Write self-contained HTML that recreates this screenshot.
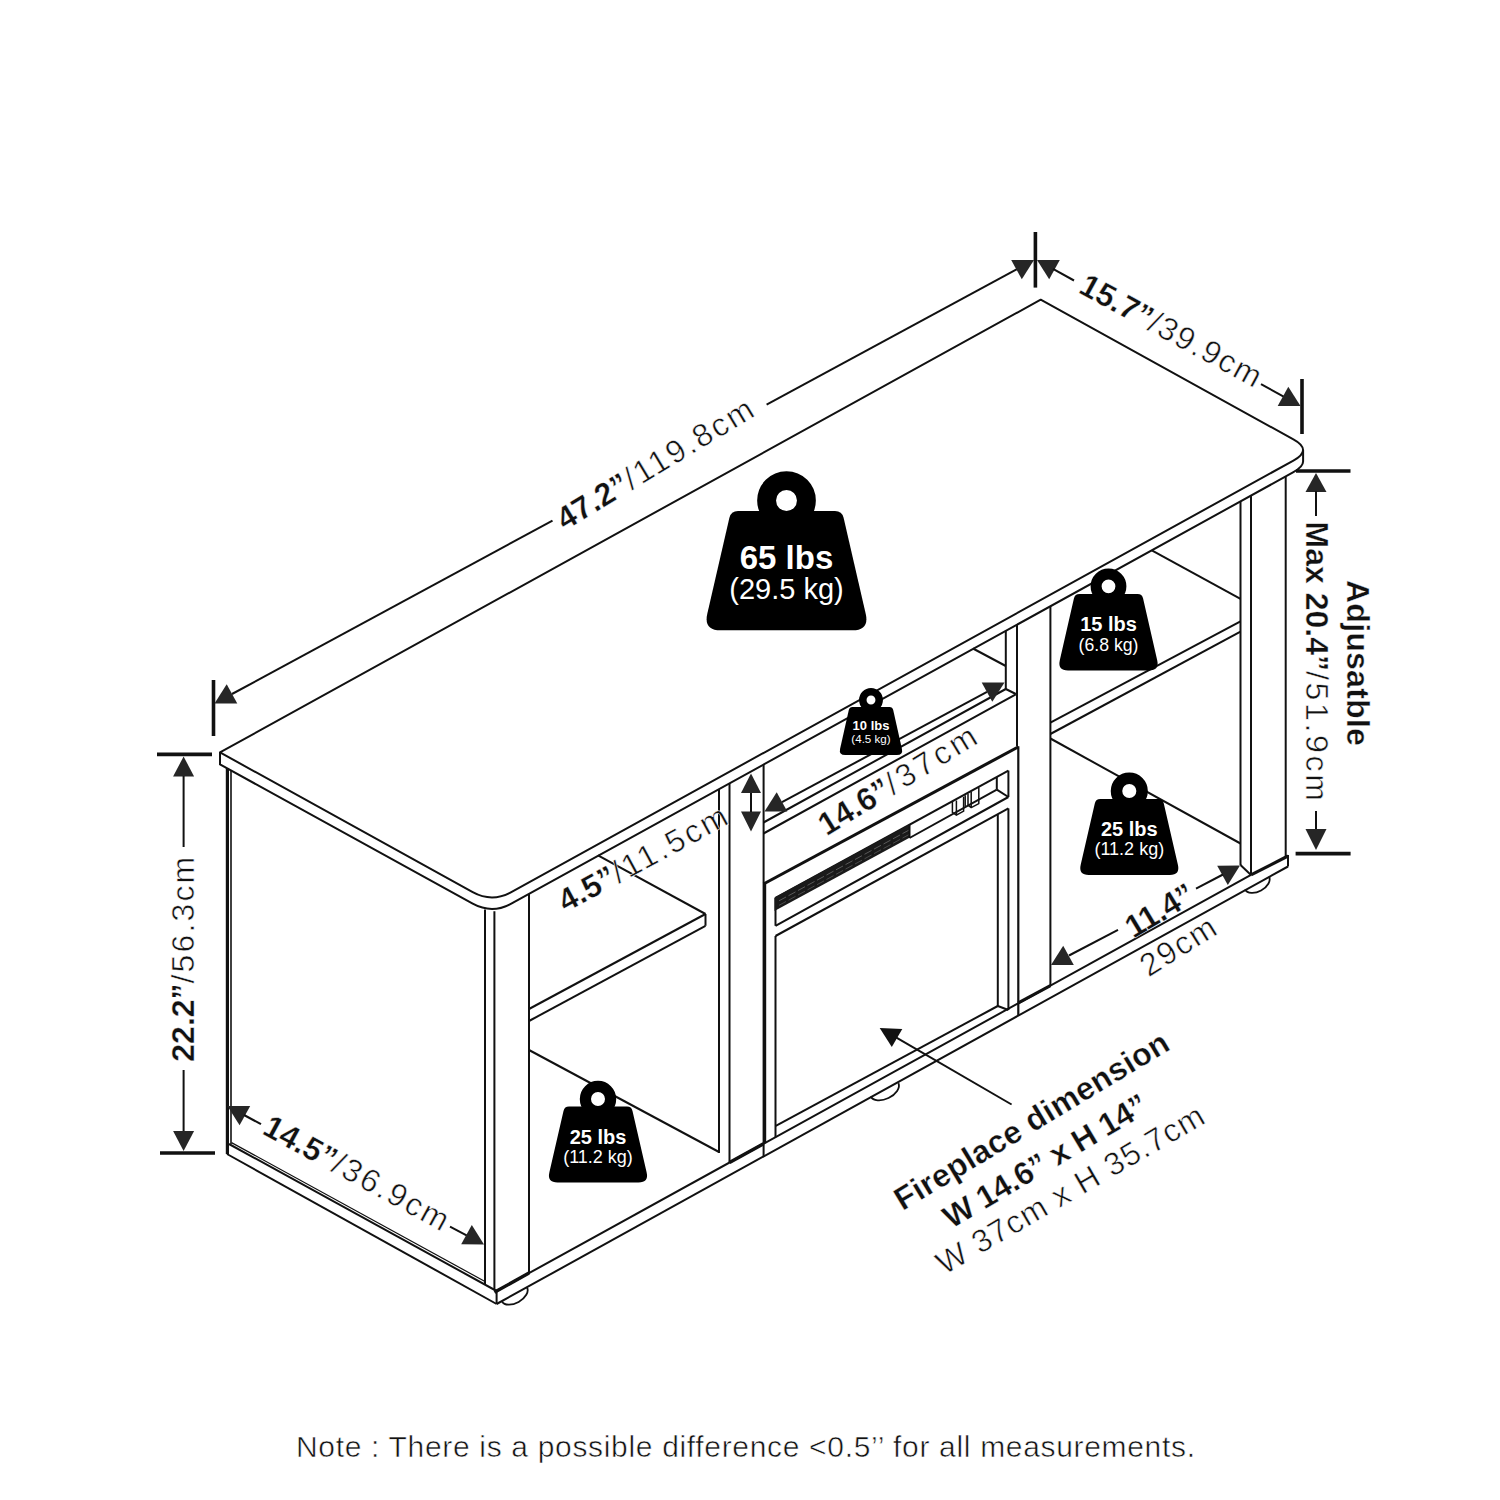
<!DOCTYPE html>
<html><head><meta charset="utf-8"><title>Dimensions</title>
<style>
html,body{margin:0;padding:0;background:#fff;}
body{width:1500px;height:1500px;overflow:hidden;}
svg{display:block;font-family:"Liberation Sans",sans-serif;}
</style></head><body>
<svg width="1500" height="1500" viewBox="0 0 1500 1500">
<rect width="1500" height="1500" fill="#fff"/>
<path d="M220,752.4 L472.7,892.1 Q492,902.7 511.3,892.1 L1293.4,460.6 Q1312.7,450 1293.4,439.4 L1040.7,299.7 Z" stroke="#111" stroke-width="2" fill="#fff" stroke-linejoin="round" />
<path d="M220,752.4 L220,764.4 L472.7,903.7 Q492,914.3000000000001 511.3,903.7 L1293.4,472.2 Q1303.1,466.9 1303.1,461.6 L1303.1,450.0" stroke="#111" stroke-width="2" fill="none" stroke-linejoin="round" />
<line x1="227.4" y1="768.1" x2="227.4" y2="1154.0" stroke="#111" stroke-width="3.2" stroke-linecap="butt"/>
<line x1="231.0" y1="770.1" x2="231.0" y2="1144.0" stroke="#111" stroke-width="1.6" stroke-linecap="butt"/>
<line x1="229.0" y1="1144.0" x2="496.6" y2="1291.0" stroke="#111" stroke-width="2" stroke-linecap="butt"/>
<line x1="231.5" y1="1142.6" x2="485.0" y2="1281.5" stroke="#111" stroke-width="1.2" stroke-linecap="butt"/>
<line x1="227.0" y1="1154.0" x2="496.6" y2="1304.0" stroke="#111" stroke-width="2" stroke-linecap="butt"/>
<line x1="496.6" y1="1291.0" x2="496.6" y2="1304.0" stroke="#111" stroke-width="2" stroke-linecap="butt"/>
<line x1="485.0" y1="909.4" x2="485.0" y2="1284.0" stroke="#111" stroke-width="2" stroke-linecap="butt"/>
<line x1="494.4" y1="911.3" x2="494.4" y2="1290.0" stroke="#111" stroke-width="2" stroke-linecap="butt"/>
<line x1="529.0" y1="893.9" x2="529.0" y2="1274.0" stroke="#111" stroke-width="2" stroke-linecap="butt"/>
<line x1="496.6" y1="1291.0" x2="1251.0" y2="874.9" stroke="#111" stroke-width="2" stroke-linecap="butt"/>
<line x1="1251.0" y1="874.9" x2="1288.0" y2="856.0" stroke="#111" stroke-width="3.2" stroke-linecap="butt"/>
<line x1="496.6" y1="1304.0" x2="1288.0" y2="866.5" stroke="#111" stroke-width="2" stroke-linecap="butt"/>
<line x1="1288.0" y1="855.0" x2="1288.0" y2="866.5" stroke="#111" stroke-width="2" stroke-linecap="butt"/>
<line x1="494.4" y1="1292.2" x2="529.0" y2="1273.1" stroke="#111" stroke-width="3.4" stroke-linecap="butt"/>
<line x1="729.5" y1="1162.6" x2="763.5" y2="1143.8" stroke="#111" stroke-width="3.4" stroke-linecap="butt"/>
<line x1="1018.3" y1="1002.8" x2="1050.4" y2="985.6" stroke="#111" stroke-width="3.2" stroke-linecap="butt"/>
<line x1="719.0" y1="789.1" x2="719.0" y2="1153.0" stroke="#111" stroke-width="2" stroke-linecap="butt"/>
<line x1="729.5" y1="783.3" x2="729.5" y2="1162.6" stroke="#111" stroke-width="2" stroke-linecap="butt"/>
<line x1="763.6" y1="764.5" x2="763.6" y2="1156.4" stroke="#111" stroke-width="2" stroke-linecap="butt"/>
<line x1="764.6" y1="883.6" x2="764.6" y2="1143.2" stroke="#111" stroke-width="3.2" stroke-linecap="butt"/>
<line x1="1005.8" y1="630.9" x2="1005.8" y2="689.0" stroke="#111" stroke-width="2" stroke-linecap="butt"/>
<line x1="1017.0" y1="624.7" x2="1017.0" y2="746.0" stroke="#111" stroke-width="2" stroke-linecap="butt"/>
<line x1="1050.4" y1="606.3" x2="1050.4" y2="985.6" stroke="#111" stroke-width="2" stroke-linecap="butt"/>
<line x1="1240.5" y1="501.4" x2="1240.5" y2="865.0" stroke="#111" stroke-width="2" stroke-linecap="butt"/>
<line x1="1251.0" y1="495.6" x2="1251.0" y2="874.9" stroke="#111" stroke-width="2" stroke-linecap="butt"/>
<line x1="1285.7" y1="476.5" x2="1285.7" y2="857.0" stroke="#111" stroke-width="2" stroke-linecap="butt"/>
<line x1="1240.5" y1="865.0" x2="1251.0" y2="874.9" stroke="#111" stroke-width="2" stroke-linecap="butt"/>
<path d="M502,1301.5 A14.3,8.5 -29.2 0 0 527,1287.5" stroke="#111" stroke-width="1.8" fill="none" stroke-linejoin="round" />
<path d="M870.8,1096.5 A15.3,9 -25.7 0 0 898.4,1083.2" stroke="#111" stroke-width="1.8" fill="none" stroke-linejoin="round" />
<path d="M1245,889.5 A13.6,8.5 -28.4 0 0 1269,876.5" stroke="#111" stroke-width="1.8" fill="none" stroke-linejoin="round" />
<line x1="529.0" y1="1009.0" x2="705.5" y2="914.0" stroke="#111" stroke-width="2" stroke-linecap="butt"/>
<line x1="529.0" y1="1021.0" x2="705.5" y2="925.8" stroke="#111" stroke-width="2" stroke-linecap="butt"/>
<line x1="705.5" y1="914.0" x2="705.5" y2="925.8" stroke="#111" stroke-width="2" stroke-linecap="butt"/>
<line x1="705.5" y1="914.0" x2="598.0" y2="855.3" stroke="#111" stroke-width="2" stroke-linecap="butt"/>
<line x1="529.0" y1="1050.0" x2="719.0" y2="1152.0" stroke="#111" stroke-width="2" stroke-linecap="butt"/>
<line x1="1050.4" y1="722.7" x2="1240.5" y2="621.3" stroke="#111" stroke-width="2" stroke-linecap="butt"/>
<line x1="1050.4" y1="734.0" x2="1240.5" y2="631.7" stroke="#111" stroke-width="2" stroke-linecap="butt"/>
<line x1="1151.8" y1="550.3" x2="1240.5" y2="598.8" stroke="#111" stroke-width="2" stroke-linecap="butt"/>
<line x1="1050.4" y1="738.5" x2="1240.5" y2="843.5" stroke="#111" stroke-width="2" stroke-linecap="butt"/>
<line x1="763.5" y1="822.5" x2="1005.8" y2="689.0" stroke="#111" stroke-width="2" stroke-linecap="butt"/>
<line x1="763.5" y1="833.5" x2="1015.8" y2="694.3" stroke="#111" stroke-width="2" stroke-linecap="butt"/>
<line x1="1005.8" y1="689.0" x2="1015.8" y2="694.0" stroke="#111" stroke-width="2" stroke-linecap="butt"/>
<line x1="973.0" y1="648.5" x2="1005.8" y2="666.0" stroke="#111" stroke-width="2" stroke-linecap="butt"/>
<line x1="763.5" y1="884.0" x2="1018.5" y2="746.8" stroke="#111" stroke-width="3.1" stroke-linecap="butt"/>
<line x1="1018.3" y1="746.3" x2="1018.3" y2="1015.6" stroke="#111" stroke-width="2.2" stroke-linecap="butt"/>
<line x1="775.5" y1="898.0" x2="1008.4" y2="770.6" stroke="#111" stroke-width="2" stroke-linecap="butt"/>
<line x1="1008.4" y1="770.6" x2="1008.4" y2="797.0" stroke="#111" stroke-width="2" stroke-linecap="butt"/>
<line x1="1008.4" y1="797.0" x2="775.5" y2="925.8" stroke="#111" stroke-width="2" stroke-linecap="butt"/>
<line x1="775.5" y1="898.0" x2="775.5" y2="925.8" stroke="#111" stroke-width="2" stroke-linecap="butt"/>
<line x1="775.5" y1="936.0" x2="775.5" y2="1137.2" stroke="#111" stroke-width="2" stroke-linecap="butt"/>
<polygon points="774.5,897.5 909.5,824.4 909.5,837.8 774.5,911" fill="#1a1a1a"/>
<line x1="779.0" y1="900.8" x2="786.0" y2="897.0" stroke="#5a5a5a" stroke-width="1"/>
<line x1="779.0" y1="905.3" x2="786.0" y2="901.5" stroke="#4a4a4a" stroke-width="1"/>
<line x1="788.5" y1="895.7" x2="795.5" y2="891.9" stroke="#5a5a5a" stroke-width="1"/>
<line x1="788.5" y1="900.2" x2="795.5" y2="896.4" stroke="#4a4a4a" stroke-width="1"/>
<line x1="798.0" y1="890.5" x2="805.0" y2="886.7" stroke="#5a5a5a" stroke-width="1"/>
<line x1="798.0" y1="895.0" x2="805.0" y2="891.2" stroke="#4a4a4a" stroke-width="1"/>
<line x1="807.5" y1="885.3" x2="814.5" y2="881.5" stroke="#5a5a5a" stroke-width="1"/>
<line x1="807.5" y1="889.8" x2="814.5" y2="886.0" stroke="#4a4a4a" stroke-width="1"/>
<line x1="817.0" y1="880.2" x2="824.0" y2="876.4" stroke="#5a5a5a" stroke-width="1"/>
<line x1="817.0" y1="884.7" x2="824.0" y2="880.9" stroke="#4a4a4a" stroke-width="1"/>
<line x1="826.5" y1="875.0" x2="833.5" y2="871.2" stroke="#5a5a5a" stroke-width="1"/>
<line x1="826.5" y1="879.5" x2="833.5" y2="875.7" stroke="#4a4a4a" stroke-width="1"/>
<line x1="836.0" y1="869.8" x2="843.0" y2="866.0" stroke="#5a5a5a" stroke-width="1"/>
<line x1="836.0" y1="874.3" x2="843.0" y2="870.5" stroke="#4a4a4a" stroke-width="1"/>
<line x1="845.5" y1="864.6" x2="852.5" y2="860.8" stroke="#5a5a5a" stroke-width="1"/>
<line x1="845.5" y1="869.1" x2="852.5" y2="865.3" stroke="#4a4a4a" stroke-width="1"/>
<line x1="855.0" y1="859.5" x2="862.0" y2="855.7" stroke="#5a5a5a" stroke-width="1"/>
<line x1="855.0" y1="864.0" x2="862.0" y2="860.2" stroke="#4a4a4a" stroke-width="1"/>
<line x1="864.5" y1="854.3" x2="871.5" y2="850.5" stroke="#5a5a5a" stroke-width="1"/>
<line x1="864.5" y1="858.8" x2="871.5" y2="855.0" stroke="#4a4a4a" stroke-width="1"/>
<line x1="874.0" y1="849.1" x2="881.0" y2="845.3" stroke="#5a5a5a" stroke-width="1"/>
<line x1="874.0" y1="853.6" x2="881.0" y2="849.8" stroke="#4a4a4a" stroke-width="1"/>
<line x1="883.5" y1="844.0" x2="890.5" y2="840.2" stroke="#5a5a5a" stroke-width="1"/>
<line x1="883.5" y1="848.5" x2="890.5" y2="844.7" stroke="#4a4a4a" stroke-width="1"/>
<line x1="893.0" y1="838.8" x2="900.0" y2="835.0" stroke="#5a5a5a" stroke-width="1"/>
<line x1="893.0" y1="843.3" x2="900.0" y2="839.5" stroke="#4a4a4a" stroke-width="1"/>
<line x1="902.5" y1="833.6" x2="909.5" y2="829.8" stroke="#5a5a5a" stroke-width="1"/>
<line x1="902.5" y1="838.1" x2="909.5" y2="834.3" stroke="#4a4a4a" stroke-width="1"/>
<line x1="909.5" y1="824.8" x2="909.5" y2="838.0" stroke="#111" stroke-width="2" stroke-linecap="butt"/>
<line x1="909.5" y1="838.0" x2="996.8" y2="789.6" stroke="#111" stroke-width="2" stroke-linecap="butt"/>
<line x1="996.8" y1="777.0" x2="996.8" y2="789.6" stroke="#111" stroke-width="2" stroke-linecap="butt"/>
<line x1="996.8" y1="789.6" x2="1008.4" y2="797.0" stroke="#111" stroke-width="2" stroke-linecap="butt"/>
<path d="M952.4,801.6 L952.4,812.4 L956.4,815.2 L963.6,811.2 L963.6,796.8 M956.4,800.4 L956.4,815.2" stroke="#111" stroke-width="1.5" fill="none" stroke-linejoin="round" />
<path d="M965.2,795.2 L965.2,806.4 M968,793.6 L968,805.2 L971.2,807.6 L978.8,803.6 L978.8,787.6 M971.2,792 L971.2,807.6" stroke="#111" stroke-width="1.5" fill="none" stroke-linejoin="round" />
<line x1="775.5" y1="936.0" x2="1008.4" y2="808.4" stroke="#111" stroke-width="2" stroke-linecap="butt"/>
<line x1="1008.4" y1="808.4" x2="1008.4" y2="1010.0" stroke="#111" stroke-width="2" stroke-linecap="butt"/>
<line x1="997.8" y1="814.3" x2="997.8" y2="1006.0" stroke="#111" stroke-width="2" stroke-linecap="butt"/>
<line x1="775.8" y1="1125.8" x2="997.8" y2="1006.0" stroke="#111" stroke-width="2" stroke-linecap="butt"/>
<line x1="997.8" y1="1006.0" x2="1008.4" y2="1010.0" stroke="#111" stroke-width="2" stroke-linecap="butt"/>
<line x1="213.5" y1="680.0" x2="213.5" y2="736.0" stroke="#111" stroke-width="3.6" stroke-linecap="butt"/>
<polygon points="214.5,703.5 226.7,684.2 237.3,703.4" fill="#262626"/>
<line x1="232.0" y1="694.0" x2="552.5" y2="520.6" stroke="#111" stroke-width="2" stroke-linecap="butt"/>
<line x1="766.6" y1="404.7" x2="1017.0" y2="269.2" stroke="#111" stroke-width="2" stroke-linecap="butt"/>
<polygon points="1034.0,260.0 1021.8,279.3 1011.2,260.1" fill="#262626"/>
<line x1="1035.4" y1="232.0" x2="1035.4" y2="287.6" stroke="#111" stroke-width="3.6" stroke-linecap="butt"/>
<polygon points="1037.0,260.0 1059.8,260.1 1049.2,279.3" fill="#262626"/>
<line x1="1053.0" y1="268.9" x2="1074.0" y2="280.5" stroke="#111" stroke-width="2" stroke-linecap="butt"/>
<line x1="1261.0" y1="384.1" x2="1285.0" y2="397.4" stroke="#111" stroke-width="2" stroke-linecap="butt"/>
<polygon points="1300.5,406.0 1277.7,405.9 1288.3,386.7" fill="#262626"/>
<line x1="1302.0" y1="379.0" x2="1302.0" y2="434.0" stroke="#111" stroke-width="3.6" stroke-linecap="butt"/>
<line x1="157.0" y1="754.4" x2="212.0" y2="754.4" stroke="#111" stroke-width="3.6" stroke-linecap="butt"/>
<polygon points="183.6,756.5 194.1,776.5 173.1,776.5" fill="#262626"/>
<line x1="183.6" y1="776.0" x2="183.6" y2="847.0" stroke="#111" stroke-width="2" stroke-linecap="butt"/>
<line x1="183.6" y1="1070.0" x2="183.6" y2="1131.0" stroke="#111" stroke-width="2" stroke-linecap="butt"/>
<polygon points="183.6,1151.0 173.1,1131.0 194.1,1131.0" fill="#262626"/>
<line x1="160.0" y1="1153.0" x2="215.0" y2="1153.0" stroke="#111" stroke-width="3.6" stroke-linecap="butt"/>
<line x1="1296.0" y1="471.0" x2="1350.5" y2="471.0" stroke="#111" stroke-width="3.6" stroke-linecap="butt"/>
<polygon points="1316.0,473.0 1326.5,492.0 1305.5,492.0" fill="#262626"/>
<line x1="1316.0" y1="491.0" x2="1316.0" y2="516.0" stroke="#111" stroke-width="2" stroke-linecap="butt"/>
<line x1="1316.0" y1="811.0" x2="1316.0" y2="829.0" stroke="#111" stroke-width="2" stroke-linecap="butt"/>
<polygon points="1316.0,850.0 1305.5,829.0 1326.5,829.0" fill="#262626"/>
<line x1="1295.6" y1="853.6" x2="1350.6" y2="853.6" stroke="#111" stroke-width="3.6" stroke-linecap="butt"/>
<polygon points="227.4,1106.0 250.2,1106.1 239.6,1125.3" fill="#262626"/>
<line x1="244.0" y1="1115.0" x2="261.0" y2="1124.2" stroke="#111" stroke-width="2" stroke-linecap="butt"/>
<line x1="450.0" y1="1226.6" x2="467.0" y2="1235.6" stroke="#111" stroke-width="2" stroke-linecap="butt"/>
<polygon points="484.0,1244.4 461.2,1244.3 471.8,1225.1" fill="#262626"/>
<polygon points="751.0,773.5 761.0,793.0 741.0,793.0" fill="#262626"/>
<polygon points="751.0,831.5 741.0,811.5 761.0,811.5" fill="#262626"/>
<line x1="751.0" y1="793.0" x2="751.0" y2="812.0" stroke="#111" stroke-width="2" stroke-linecap="butt"/>
<polygon points="764.5,811.5 776.7,792.2 787.3,811.4" fill="#262626"/>
<polygon points="1004.5,682.5 992.3,701.8 981.7,682.6" fill="#262626"/>
<line x1="782.0" y1="802.1" x2="987.0" y2="691.9" stroke="#111" stroke-width="2" stroke-linecap="butt"/>
<polygon points="1051.0,965.0 1063.2,945.7 1073.8,964.9" fill="#262626"/>
<polygon points="1240.0,865.6 1227.8,884.9 1217.2,865.7" fill="#262626"/>
<line x1="1069.0" y1="955.5" x2="1118.0" y2="929.8" stroke="#111" stroke-width="2" stroke-linecap="butt"/>
<line x1="1196.0" y1="888.7" x2="1223.0" y2="874.5" stroke="#111" stroke-width="2" stroke-linecap="butt"/>
<polygon points="879.7,1028.0 902.3,1028.9 891.8,1047.1" fill="#111"/>
<line x1="896.0" y1="1037.4" x2="1011.6" y2="1104.5" stroke="#111" stroke-width="2" stroke-linecap="butt"/>
<path d="M738.0,511.0 L835.0,511.0 Q842.0,511.0 843.6,517.8 L865.7,613.7 Q869.5,630.3 852.5,630.3 L720.5,630.3 Q703.5,630.3 707.3,613.7 L729.4,517.8 Q731.0,511.0 738.0,511.0 Z" fill="#000"/>
<circle cx="786.5" cy="500.5" r="19.9" fill="#fff" stroke="#000" stroke-width="18.9"/>
<text x="786.5" y="569.3" text-anchor="middle" font-size="33" font-weight="700" fill="#fff">65 lbs</text>
<text x="786.5" y="598.7" text-anchor="middle" font-size="29" fill="#fff">(29.5 kg)</text>
<path d="M1079.4,594.0 L1137.6,594.0 Q1142.1,594.0 1143.1,598.4 L1157.2,660.3 Q1159.5,670.5 1149.0,670.5 L1068.0,670.5 Q1057.5,670.5 1059.8,660.3 L1073.9,598.4 Q1074.9,594.0 1079.4,594.0 Z" fill="#000"/>
<circle cx="1108.5" cy="586.3" r="12.4" fill="#fff" stroke="#000" stroke-width="11.0"/>
<text x="1108.5" y="631.0" text-anchor="middle" font-size="20" font-weight="700" fill="#fff">15 lbs</text>
<text x="1108.5" y="650.8" text-anchor="middle" font-size="17.7" fill="#fff">(6.8 kg)</text>
<path d="M852.5,707.0 L889.5,707.0 Q892.5,707.0 893.2,709.9 L901.9,748.7 Q903.3,755.0 896.8,755.0 L845.2,755.0 Q838.7,755.0 840.1,748.7 L848.8,709.9 Q849.5,707.0 852.5,707.0 Z" fill="#000"/>
<circle cx="871.0" cy="700.0" r="8.2" fill="#fff" stroke="#000" stroke-width="7.5"/>
<text x="871.0" y="730.0" text-anchor="middle" font-size="13" font-weight="700" fill="#fff">10 lbs</text>
<text x="871.0" y="742.7" text-anchor="middle" font-size="11.6" fill="#fff">(4.5 kg)</text>
<path d="M1100.3,799.0 L1158.3,799.0 Q1162.8,799.0 1163.8,803.4 L1177.9,864.8 Q1180.3,875.0 1169.8,875.0 L1088.8,875.0 Q1078.3,875.0 1080.7,864.8 L1094.8,803.4 Q1095.8,799.0 1100.3,799.0 Z" fill="#000"/>
<circle cx="1129.3" cy="791.0" r="12.8" fill="#fff" stroke="#000" stroke-width="11.5"/>
<text x="1129.3" y="836.0" text-anchor="middle" font-size="20" font-weight="700" fill="#fff">25 lbs</text>
<text x="1129.3" y="855.0" text-anchor="middle" font-size="18" fill="#fff">(11.2 kg)</text>
<path d="M569.0,1106.5 L627.0,1106.5 Q631.5,1106.5 632.5,1110.9 L646.6,1172.3 Q649.0,1182.5 638.5,1182.5 L557.5,1182.5 Q547.0,1182.5 549.4,1172.3 L563.5,1110.9 Q564.5,1106.5 569.0,1106.5 Z" fill="#000"/>
<circle cx="598.0" cy="1099.0" r="12.6" fill="#fff" stroke="#000" stroke-width="11.2"/>
<text x="598.0" y="1143.5" text-anchor="middle" font-size="20" font-weight="700" fill="#fff">25 lbs</text>
<text x="598.0" y="1162.5" text-anchor="middle" font-size="18" fill="#fff">(11.2 kg)</text>
<text transform="translate(661.5,472.6) rotate(-31.1)" x="-113.0" y="0" font-size="32" fill="#111"><tspan font-weight="700" letter-spacing="0.00" stroke="#fff" stroke-width="0.35">47.2”</tspan><tspan font-weight="400" letter-spacing="2.31" stroke="#fff" stroke-width="0.55">/119.8cm</tspan></text>
<text transform="translate(1166.5,340.5) rotate(28.5)" x="-101.5" y="0" font-size="32" fill="#111"><tspan font-weight="700" letter-spacing="0.00" stroke="#fff" stroke-width="0.35">15.7”</tspan><tspan font-weight="400" letter-spacing="1.56" stroke="#fff" stroke-width="0.55">/39.9cm</tspan></text>
<text transform="translate(194.0,958.2) rotate(-90)" x="-103.5" y="0" font-size="32" fill="#111"><tspan font-weight="700" letter-spacing="0.00" stroke="#fff" stroke-width="0.35">22.2”</tspan><tspan font-weight="400" letter-spacing="2.13" stroke="#fff" stroke-width="0.55">/56.3cm</tspan></text>
<text transform="translate(1306.0,662.5) rotate(90)" x="-141.0" y="0" font-size="32" fill="#111"><tspan font-weight="700" letter-spacing="0.00" stroke="#fff" stroke-width="0.35">Max 20.4”</tspan><tspan font-weight="400" letter-spacing="2.68" stroke="#fff" stroke-width="0.55">/51.9cm</tspan></text>
<text transform="translate(1347.0,663.0) rotate(90)" x="-83.0" y="0" font-size="32" fill="#111"><tspan font-weight="700" letter-spacing="0.24" stroke="#fff" stroke-width="0.35">Adjusatble</tspan></text>
<text transform="translate(352.3,1183.0) rotate(28.6)" x="-104.0" y="0" font-size="32" fill="#111"><tspan font-weight="700" letter-spacing="0.00" stroke="#fff" stroke-width="0.35">14.5”</tspan><tspan font-weight="400" letter-spacing="2.27" stroke="#fff" stroke-width="0.55">/36.9cm</tspan></text>
<text transform="translate(649.0,867.5) rotate(-28.5)" x="-95.0" y="0" font-size="32" fill="#111"><tspan font-weight="700" letter-spacing="0.00" stroke="#fff" stroke-width="0.35">4.5”</tspan><tspan font-weight="400" letter-spacing="2.58" stroke="#fff" stroke-width="0.55">/11.5cm</tspan></text>
<text transform="translate(904.5,788.6) rotate(-31.5)" x="-91.5" y="0" font-size="32" fill="#111"><tspan font-weight="700" letter-spacing="0.00" stroke="#fff" stroke-width="0.35">14.6”</tspan><tspan font-weight="400" letter-spacing="3.52" stroke="#fff" stroke-width="0.55">/37cm</tspan></text>
<text transform="translate(1165.0,920.0) rotate(-31)" x="-37.0" y="0" font-size="32" fill="#111"><tspan font-weight="700" letter-spacing="-0.50" stroke="#fff" stroke-width="0.35">11.4”</tspan></text>
<text transform="translate(1184.6,954.9) rotate(-32)" x="-42.5" y="0" font-size="32" fill="#111"><tspan font-weight="400" letter-spacing="1.69" stroke="#fff" stroke-width="0.55">29cm</tspan></text>
<text transform="translate(1037.2,1130.0) rotate(-31.1)" x="-157.3" y="0" font-size="32" fill="#111"><tspan font-weight="700" letter-spacing="0.28" stroke="#fff" stroke-width="0.35">Fireplace dimension</tspan></text>
<text transform="translate(1050.6,1170.4) rotate(-30.6)" x="-115.5" y="0" font-size="32" fill="#111"><tspan font-weight="700" letter-spacing="-0.37" stroke="#fff" stroke-width="0.35">W 14.6” x H 14”</tspan></text>
<text transform="translate(1076.0,1198.5) rotate(-30.2)" x="-152.5" y="0" font-size="32" fill="#111"><tspan font-weight="400" letter-spacing="1.00" stroke="#fff" stroke-width="0.55">W 37cm x H 35.7cm</tspan></text>
<text x="296" y="1457" font-size="30" fill="#111" stroke="#fff" stroke-width="0.55" textLength="899" lengthAdjust="spacing">Note : There is a possible difference &lt;0.5’’ for all measurements.</text>
</svg>
</body></html>
